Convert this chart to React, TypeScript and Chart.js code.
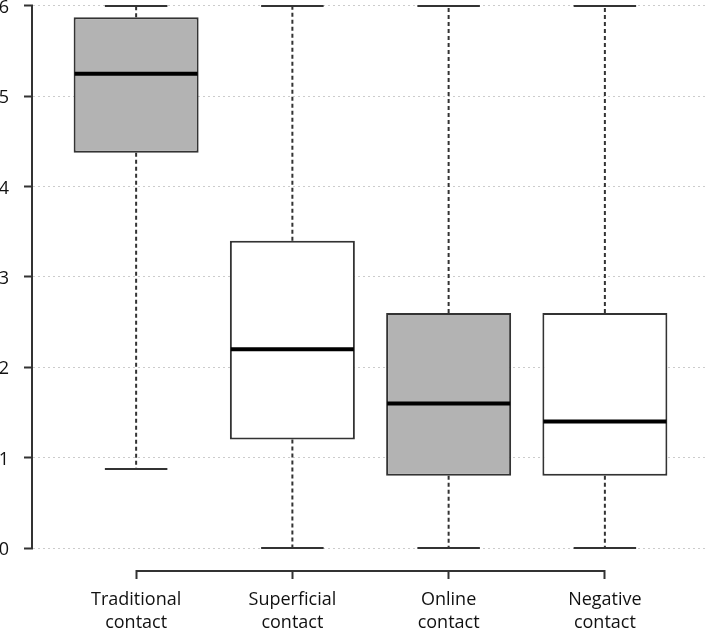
import React, { useEffect, useRef } from 'react';
import { Chart, registerables } from 'chart.js';

Chart.register(...registerables);

const categories: string[][] = [
  ['Traditional', 'contact'],
  ['Superficial', 'contact'],
  ['Online', 'contact'],
  ['Negative', 'contact'],
];
const positions = [1, 2, 3, 4];
const whiskerLow = [0.875, 0, 0, 0];
const q1 = [4.375, 1.2, 0.8, 0.8];
const medians = [5.25, 2.2, 1.6, 1.4];
const q3 = [5.875, 3.4, 2.6, 2.6];
const whiskerHigh = [6, 6, 6, 6];
const boxFills = ['#b3b3b3', '#ffffff', '#b3b3b3', '#ffffff'];
const yTicks = [0, 1, 2, 3, 4, 5, 6];

const FONT = "'Open Sans', 'Noto Sans', sans-serif";
const INK = '#333333';

const boxPlugin = {
  id: 'boxExtras',
  beforeDatasetsDraw(chart: any) {
    const ctx = chart.ctx;
    const y = chart.scales.y;
    const meta = chart.getDatasetMeta(0);
    ctx.save();
    meta.data.forEach((bar: any, i: number) => {
      const cx = bar.x;
      const capHalf = bar.width / 4;
      const yLo = y.getPixelForValue(whiskerLow[i]);
      const yHi = y.getPixelForValue(whiskerHigh[i]);
      const yQ1 = y.getPixelForValue(q1[i]);
      const yQ3 = y.getPixelForValue(q3[i]);
      ctx.strokeStyle = INK;
      ctx.lineWidth = 2;
      ctx.setLineDash([4, 3]);
      ctx.beginPath();
      ctx.moveTo(cx, yQ3);
      ctx.lineTo(cx, yHi);
      ctx.moveTo(cx, yQ1);
      ctx.lineTo(cx, yLo);
      ctx.stroke();
      ctx.setLineDash([]);
      ctx.beginPath();
      ctx.moveTo(cx - capHalf, yHi);
      ctx.lineTo(cx + capHalf, yHi);
      ctx.moveTo(cx - capHalf, yLo);
      ctx.lineTo(cx + capHalf, yLo);
      ctx.stroke();
    });
    ctx.restore();
  },
  afterDatasetsDraw(chart: any) {
    const ctx = chart.ctx;
    const y = chart.scales.y;
    const meta = chart.getDatasetMeta(0);
    ctx.save();
    meta.data.forEach((bar: any, i: number) => {
      const half = bar.width / 2;
      const ym = y.getPixelForValue(medians[i]);
      ctx.strokeStyle = '#000000';
      ctx.lineWidth = 4;
      ctx.beginPath();
      ctx.moveTo(bar.x - half + 1, ym);
      ctx.lineTo(bar.x + half - 1, ym);
      ctx.stroke();
    });
    ctx.restore();
  },
  afterDraw(chart: any) {
    const ctx = chart.ctx;
    const x = chart.scales.x;
    const y = chart.scales.y;
    const area = chart.chartArea;
    ctx.save();
    ctx.strokeStyle = INK;
    ctx.lineWidth = 2;
    ctx.beginPath();
    const ax = area.left - 1;
    ctx.moveTo(ax, y.getPixelForValue(yTicks[0]));
    ctx.lineTo(ax, y.getPixelForValue(yTicks[yTicks.length - 1]));
    const ay = area.bottom + 1;
    ctx.moveTo(x.getPixelForValue(positions[0]), ay);
    ctx.lineTo(x.getPixelForValue(positions[positions.length - 1]), ay);
    ctx.stroke();
    ctx.restore();
  },
};

export default function App() {
  const canvasRef = useRef<HTMLCanvasElement | null>(null);

  useEffect(() => {
    document.body.style.margin = '0';
    const canvas = canvasRef.current;
    if (!canvas) return;
    const chart = new Chart(canvas, {
      type: 'bar',
      data: {
        datasets: [
          {
            data: positions.map((p, i) => ({ x: p, y: [q1[i], q3[i]] })) as any,
            backgroundColor: boxFills,
            borderColor: INK,
            borderWidth: 2,
            borderSkipped: false,
            categoryPercentage: 0.8,
            barPercentage: 1,
          },
        ],
      },
      options: {
        responsive: false,
        animation: false,
        layout: { padding: { top: 0, right: 1, bottom: 0, left: 0 } },
        plugins: {
          legend: { display: false },
          tooltip: { enabled: false },
          title: { display: false },
        },
        scales: {
          x: {
            type: 'linear',
            offset: false,
            min: 0.34,
            max: 4.66,
            afterBuildTicks: (s: any) => {
              s.ticks = positions.map((v) => ({ value: v }));
            },
            afterFit: (s: any) => {
              s.height = 64;
              s.paddingLeft = 0;
              s.paddingRight = 0;
            },
            grid: {
              offset: false,
              drawOnChartArea: false,
              drawTicks: true,
              tickLength: 9,
              tickColor: INK,
              tickWidth: 2,
            },
            border: { display: false },
            ticks: {
              padding: 9,
              color: '#111',
              maxRotation: 0,
              autoSkip: false,
              font: { family: FONT, size: 18, lineHeight: '23px' },
              callback: (_v: any, index: number) => categories[index],
            },
          },
          y: {
            type: 'linear',
            min: -0.2435,
            max: 6.066,
            afterBuildTicks: (s: any) => {
              s.ticks = yTicks.map((v) => ({ value: v }));
            },
            afterFit: (s: any) => {
              s.width = 33;
              s.paddingTop = 0;
              s.paddingBottom = 0;
            },
            grid: {
              drawOnChartArea: true,
              color: '#cccccc',
              lineWidth: 1,
              drawTicks: true,
              tickLength: 9,
              tickColor: INK,
              tickWidth: 2,
              tickBorderDash: [],
            } as any,
            border: { display: false, dash: [2, 3] },
            ticks: {
              padding: 15,
              labelOffset: 2,
              color: '#111',
              autoSkip: false,
              font: { family: FONT, size: 18 },
              callback: (v: any) => String(v),
            },
          },
        },
      },
      plugins: [boxPlugin],
    });
    return () => chart.destroy();
  }, []);

  return (
    <div style={{ width: 709, height: 634 }}>
      <canvas ref={canvasRef} width={709} height={634} style={{ display: 'block' }} />
    </div>
  );
}
